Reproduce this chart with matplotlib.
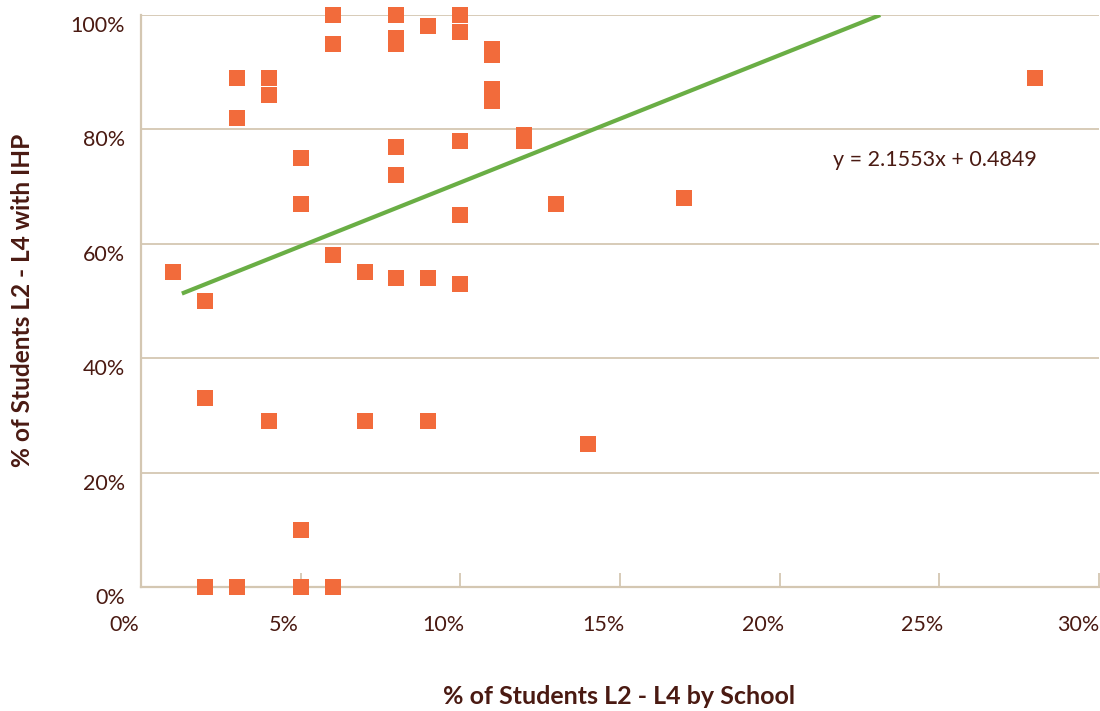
import matplotlib
matplotlib.use("Agg")
import matplotlib.pyplot as plt
from matplotlib.transforms import ScaledTranslation
from matplotlib.ticker import PercentFormatter

# Data (percent values)
pct_l2_l4 = [1, 2, 2, 2, 3, 3, 3, 4, 4, 4, 5, 5, 5, 5, 6, 6, 6, 6, 7, 7,
             8, 8, 8, 8, 8, 8, 9, 9, 9, 10, 10, 10, 10, 10, 11, 11, 11, 11,
             12, 12, 13, 14, 17, 28]
pct_ihp = [55, 50, 33, 0, 89, 82, 0, 89, 86, 29, 75, 67, 10, 0, 100, 95, 58, 0, 55, 29,
           100, 96, 95, 77, 72, 54, 98, 54, 29, 100, 97, 78, 65, 53, 94, 93, 87, 85,
           79, 78, 67, 25, 68, 89]
trend_x = [1.28, 23.15]
trend_y = [51.3, 100.0]
equation = "y = 2.1553x + 0.4849"
x_ticks = [0, 5, 10, 15, 20, 25, 30]
y_ticks = [0, 20, 40, 60, 80, 100]

TEXT = "#4A1A12"
GRID = "#D4C7B2"
ORANGE = "#F26B3B"
GREEN = "#6AAE45"

plt.rcParams['font.family'] = ['Lato', 'DejaVu Sans']

fig = plt.figure(figsize=(11, 7.11), dpi=100)
ax = fig.add_axes([141/1100, (711-587)/711, (1099-141)/1100, (587-15)/711])

xs = [v/100 for v in pct_l2_l4]
ys = [v/100 for v in pct_ihp]

ax.set_xlim(0, 0.30)
ax.set_ylim(0, 1.0)

for yt in y_ticks[1:]:
    ax.axhline(yt/100, color=GRID, lw=1.3, zorder=1)

ax.plot([v/100 for v in trend_x], [v/100 for v in trend_y], color=GREEN, lw=3.0,
        solid_capstyle='butt', zorder=3)
ax.plot(xs, ys, linestyle='none', marker='s', markersize=12.2, markeredgewidth=0,
        color=ORANGE, zorder=4, clip_on=False)

for s in ['top', 'right']:
    ax.spines[s].set_visible(False)
for s in ['left', 'bottom']:
    ax.spines[s].set_color(GRID)
    ax.spines[s].set_linewidth(1.6)
    ax.spines[s].set_zorder(2)

ax.set_xticks([v/100 for v in x_ticks])
ax.set_yticks([v/100 for v in y_ticks])
ax.xaxis.set_major_formatter(PercentFormatter(1.0, decimals=0))
ax.yaxis.set_major_formatter(PercentFormatter(1.0, decimals=0))

ax.tick_params(axis='x', direction='in', length=10, width=1.3, color=GRID,
               pad=20, labelsize=15.5, labelcolor=TEXT)
ax.tick_params(axis='y', length=0, pad=11.5, labelsize=15.5, labelcolor=TEXT)

xlabels = ax.get_xticklabels()
for i, lab in enumerate(xlabels):
    dx = -17 if i < len(xlabels) - 1 else -21
    lab.set_transform(lab.get_transform() + ScaledTranslation(dx/100, 0, fig.dpi_scale_trans))
for lab in ax.get_yticklabels():
    lab.set_transform(lab.get_transform() + ScaledTranslation(0, -9/100, fig.dpi_scale_trans))

fig.text(619/1100, 1 - 697/711, "% of Students L2 - L4 by School", ha='center', va='center',
         fontsize=18, fontweight='bold', color=TEXT)
fig.text(23/1100, 1 - 300/711, "% of Students L2 - L4 with IHP", ha='center', va='center',
         rotation=90, fontsize=17.6, fontweight='bold', color=TEXT)

fig.text(833/1100, 1 - 160/711, equation, ha='left', va='center', fontsize=15.5, color=TEXT)

fig.savefig("out.png", dpi=100)
